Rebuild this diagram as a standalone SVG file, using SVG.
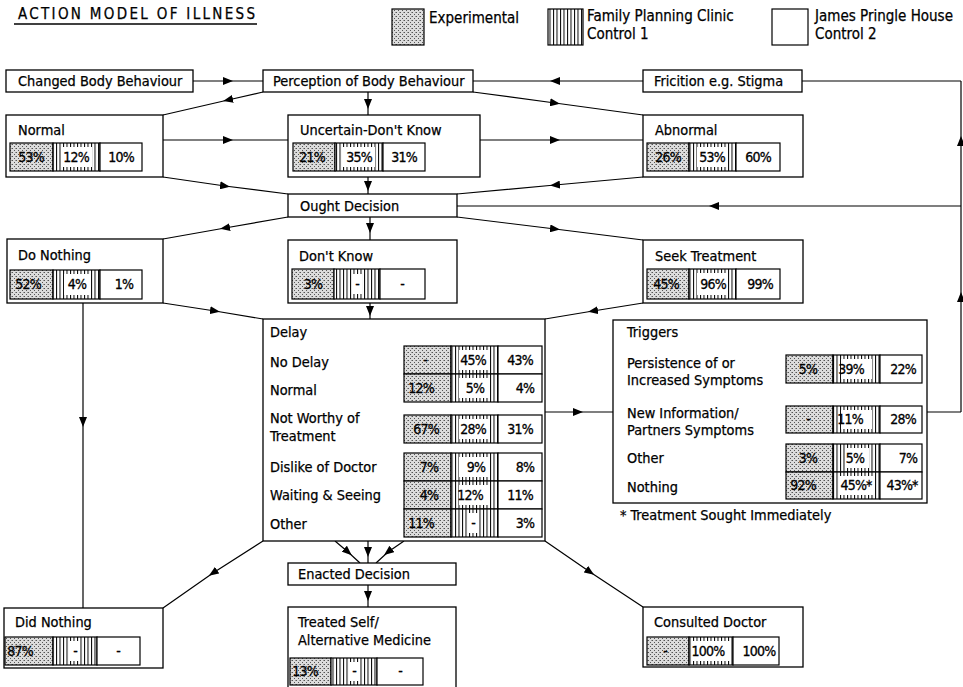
<svg xmlns="http://www.w3.org/2000/svg" width="963" height="687" viewBox="0 0 963 687">
<style>
.b{fill:#fff;stroke:#000;stroke-width:1.3}
.t{font-family:"DejaVu Sans Condensed","Liberation Sans Narrow","Roboto Condensed","DejaVu Sans",sans-serif;font-stretch:condensed;font-size:14.4px;fill:#000;stroke:#000;stroke-width:0.25}
.lg{font-size:15px}
.p{font-family:"DejaVu Sans Condensed","Liberation Sans Narrow","Roboto Condensed","DejaVu Sans",sans-serif;font-stretch:condensed;font-size:14px;fill:#000;stroke:#000;stroke-width:0.3;text-anchor:middle;letter-spacing:-0.8px}
.st{fill:url(#st);stroke:#000;stroke-width:1.2}
.vl{fill:url(#vl);stroke:#000;stroke-width:1.2}
.wh{fill:#fff;stroke:#000;stroke-width:1.2}
.m{fill:#fff}
.c{fill:none;stroke:#000;stroke-width:1.2;marker-mid:url(#ah)}
.n{fill:none;stroke:#000;stroke-width:1.2}
</style>
<defs>
<pattern id="st" width="4" height="4" patternUnits="userSpaceOnUse"><rect width="4" height="4" fill="#dcdcdc"/><rect x="0" y="0" width="1" height="1" fill="#555"/><rect x="2" y="2" width="1" height="1" fill="#555"/><rect x="3" y="0" width="1" height="1" fill="#999"/></pattern>
<pattern id="vl" width="3.5" height="10" patternUnits="userSpaceOnUse"><rect width="3.5" height="10" fill="#fff"/><rect x="0" y="0" width="1" height="10" fill="#000"/></pattern>
<marker id="ah" viewBox="0 0 10 8" refX="5" refY="4" markerWidth="10" markerHeight="8" markerUnits="userSpaceOnUse" orient="auto"><path d="M0,0 L10,4 L0,8 z" fill="#000"/></marker>
</defs>
<rect width="963" height="687" fill="#fff"/>

<g id="title">
<text class="t" x="18" y="19" textLength="237" lengthAdjust="spacing" style="font-size:15px">ACTION MODEL OF ILLNESS</text>
<line x1="14" y1="24" x2="257" y2="24" stroke="#000" stroke-width="1.3"/>
</g>

<g id="legend">
<rect class="st" x="392" y="9" width="32" height="36"/>
<text class="t lg" x="429" y="23">Experimental</text>
<rect class="vl" x="548" y="9" width="35" height="36"/>
<text class="t lg" x="587" y="21">Family Planning Clinic</text>
<text class="t lg" x="587" y="39">Control 1</text>
<rect class="wh" x="772" y="9" width="36" height="36"/>
<text class="t lg" x="815" y="21">James Pringle House</text>
<text class="t lg" x="815" y="39">Control 2</text>
</g>

<g id="connectors">
<path class="c" d="M193,81 L228,81 L263,81"/>
<path class="c" d="M643,81 L555,81 L473,81"/>
<path class="c" d="M263,92 L228,100 L163,115"/>
<path class="c" d="M368,92 L368,104 L368,115"/>
<path class="c" d="M473,92 L555,103 L643,115"/>
<path class="c" d="M163,140 L228,140 L288,140"/>
<path class="c" d="M480,140 L555,140 L643,140"/>
<path class="c" d="M163,177 L225,186 L288,194"/>
<path class="c" d="M368,177 L368,186 L368,194"/>
<path class="c" d="M643,177 L555,185 L457,194"/>
<path class="c" d="M961,206 L714,206 L457,206"/>
<path class="n" d="M927,412 L961,412"/>
<path class="c" d="M961,412 L961,297 L961,206"/>
<path class="c" d="M961,206 L961,141 L961,81"/>
<path class="n" d="M961,81 L802,81"/>
<path class="c" d="M288,217 L225,228 L163,239"/>
<path class="c" d="M370,217 L370,228 L370,240"/>
<path class="c" d="M457,217 L555,229 L643,240"/>
<path class="c" d="M163,303 L215,311 L263,319"/>
<path class="c" d="M370,303 L370,311 L370,319"/>
<path class="c" d="M643,303 L593,311 L545,319"/>
<path class="c" d="M83,303 L83,422 L83,608"/>
<path class="c" d="M545,412 L578,412 L613,412"/>
<path class="c" d="M335,541 L348,552 L360,563"/>
<path class="c" d="M368,541 L368,552 L368,563"/>
<path class="c" d="M404,541 L388,552 L376,563"/>
<path class="c" d="M263,541 L213,573 L163,608"/>
<path class="c" d="M545,541 L590,572 L643,607"/>
<path class="c" d="M368,585 L368,596 L368,607"/>
</g>

<g id="changed-body">
<rect class="b" x="6" y="70" width="187" height="22"/>
<text class="t" x="18" y="86">Changed Body Behaviour</text>
</g>
<g id="perception">
<rect class="b" x="263" y="70" width="210" height="22"/>
<text class="t" x="273" y="86">Perception of Body Behaviour</text>
</g>
<g id="friction">
<rect class="b" x="643" y="70" width="159" height="22"/>
<text class="t" x="654" y="86">Fricition e.g. Stigma</text>
</g>

<g id="normal">
<rect class="b" x="6" y="115" width="157" height="62"/>
<text class="t" x="18" y="135">Normal</text>
<rect class="st" x="10" y="143" width="43" height="28"/>
<rect class="vl" x="53" y="143" width="47" height="28"/><rect class="m" x="61" y="147" width="31" height="20"/>
<rect class="wh" x="100" y="143" width="42" height="28"/>
<text class="p" x="31" y="162">53%</text><text class="p" x="76" y="162">12%</text><text class="p" x="121" y="162">10%</text>
</g>
<g id="uncertain">
<rect class="b" x="288" y="115" width="192" height="62"/>
<text class="t" x="300" y="135">Uncertain-Don't Know</text>
<rect class="st" x="293" y="143" width="42" height="28"/>
<rect class="vl" x="335" y="143" width="48" height="28"/><rect class="m" x="343" y="147" width="32" height="20"/>
<rect class="wh" x="383" y="143" width="42" height="28"/>
<text class="p" x="312" y="162">21%</text><text class="p" x="359" y="162">35%</text><text class="p" x="404" y="162">31%</text>
</g>
<g id="abnormal">
<rect class="b" x="643" y="115" width="160" height="62"/>
<text class="t" x="655" y="135">Abnormal</text>
<rect class="st" x="647" y="143" width="42" height="28"/>
<rect class="vl" x="689" y="143" width="47" height="28"/><rect class="m" x="697" y="147" width="31" height="20"/>
<rect class="wh" x="736" y="143" width="44" height="28"/>
<text class="p" x="668" y="162">26%</text><text class="p" x="712" y="162">53%</text><text class="p" x="758" y="162">60%</text>
</g>

<g id="ought">
<rect class="b" x="288" y="194" width="169" height="23"/>
<text class="t" x="300" y="211">Ought Decision</text>
</g>

<g id="do-nothing">
<rect class="b" x="7" y="239" width="156" height="64"/>
<text class="t" x="18" y="260">Do Nothing</text>
<rect class="st" x="10" y="270" width="43" height="29"/>
<rect class="vl" x="53" y="270" width="47" height="29"/><rect class="m" x="64" y="274" width="26" height="21"/>
<rect class="wh" x="100" y="270" width="42" height="29"/>
<text class="p" x="28" y="289">52%</text><text class="p" x="77" y="289">4%</text><text class="p" x="124" y="289">1%</text>
</g>
<g id="dont-know">
<rect class="b" x="288" y="240" width="169" height="63"/>
<text class="t" x="299" y="261">Don't Know</text>
<rect class="st" x="292" y="269" width="42" height="30"/>
<rect class="vl" x="334" y="269" width="46" height="30"/><rect class="m" x="352" y="274" width="10" height="20"/>
<rect class="wh" x="380" y="269" width="45" height="30"/>
<text class="p" x="313" y="289">3%</text><text class="p" x="357" y="289">-</text><text class="p" x="402" y="289">-</text>
</g>
<g id="seek">
<rect class="b" x="643" y="240" width="160" height="63"/>
<text class="t" x="655" y="261">Seek Treatment</text>
<rect class="st" x="647" y="269" width="42" height="30"/>
<rect class="vl" x="689" y="269" width="47" height="30"/><rect class="m" x="697" y="273" width="31" height="22"/>
<rect class="wh" x="736" y="269" width="44" height="30"/>
<text class="p" x="666" y="289">45%</text><text class="p" x="713" y="289">96%</text><text class="p" x="760" y="289">99%</text>
</g>

<g id="delay">
<rect class="b" x="263" y="319" width="282" height="222"/>
<text class="t" x="270" y="337">Delay</text>
<text class="t" x="270" y="367">No Delay</text>
<text class="t" x="270" y="395">Normal</text>
<text class="t" x="270" y="423">Not Worthy of</text>
<text class="t" x="270" y="441">Treatment</text>
<text class="t" x="270" y="472">Dislike of Doctor</text>
<text class="t" x="270" y="500">Waiting &amp; Seeing</text>
<text class="t" x="270" y="529">Other</text>
<rect class="st" x="404" y="346" width="47" height="28"/><rect class="vl" x="451" y="346" width="47" height="28"/><rect class="m" x="459" y="350" width="31" height="20"/><rect class="wh" x="498" y="346" width="44" height="28"/>
<rect class="st" x="404" y="374" width="47" height="28"/><rect class="vl" x="451" y="374" width="47" height="28"/><rect class="m" x="459" y="378" width="31" height="20"/><rect class="wh" x="498" y="374" width="44" height="28"/>
<rect class="st" x="404" y="415" width="47" height="28"/><rect class="vl" x="451" y="415" width="47" height="28"/><rect class="m" x="459" y="419" width="31" height="20"/><rect class="wh" x="498" y="415" width="44" height="28"/>
<rect class="st" x="404" y="453" width="47" height="28"/><rect class="vl" x="451" y="453" width="47" height="28"/><rect class="m" x="459" y="457" width="31" height="20"/><rect class="wh" x="498" y="453" width="44" height="28"/>
<rect class="st" x="404" y="481" width="47" height="28"/><rect class="vl" x="451" y="481" width="47" height="28"/><rect class="m" x="459" y="485" width="31" height="20"/><rect class="wh" x="498" y="481" width="44" height="28"/>
<rect class="st" x="404" y="509" width="47" height="28"/><rect class="vl" x="451" y="509" width="47" height="28"/><rect class="m" x="468" y="513" width="10" height="20"/><rect class="wh" x="498" y="509" width="44" height="28"/>
<text class="p" x="425" y="365">-</text><text class="p" x="473" y="365">45%</text><text class="p" x="520" y="365">43%</text>
<text class="p" x="421" y="393">12%</text><text class="p" x="475" y="393">5%</text><text class="p" x="525" y="393">4%</text>
<text class="p" x="426" y="434">67%</text><text class="p" x="473" y="434">28%</text><text class="p" x="520" y="434">31%</text>
<text class="p" x="429" y="472">7%</text><text class="p" x="476" y="472">9%</text><text class="p" x="525" y="472">8%</text>
<text class="p" x="429" y="500">4%</text><text class="p" x="470" y="500">12%</text><text class="p" x="520" y="500">11%</text>
<text class="p" x="421" y="528">11%</text><text class="p" x="473" y="528">-</text><text class="p" x="525" y="528">3%</text>
</g>

<g id="triggers">
<rect class="b" x="613" y="320" width="314" height="183"/>
<text class="t" x="627" y="337">Triggers</text>
<text class="t" x="627" y="368">Persistence of or</text>
<text class="t" x="627" y="385">Increased Symptoms</text>
<text class="t" x="627" y="418">New Information/</text>
<text class="t" x="627" y="435">Partners Symptoms</text>
<text class="t" x="627" y="463">Other</text>
<text class="t" x="627" y="492">Nothing</text>
<rect class="st" x="786" y="355" width="47" height="28"/><rect class="vl" x="833" y="355" width="47" height="28"/><rect class="m" x="841" y="359" width="31" height="20"/><rect class="wh" x="880" y="355" width="42" height="28"/>
<rect class="st" x="786" y="406" width="47" height="27"/><rect class="vl" x="833" y="406" width="47" height="27"/><rect class="m" x="841" y="410" width="31" height="19"/><rect class="wh" x="880" y="406" width="42" height="27"/>
<rect class="st" x="786" y="444" width="47" height="28"/><rect class="vl" x="833" y="444" width="47" height="28"/><rect class="m" x="845" y="448" width="24" height="20"/><rect class="wh" x="880" y="444" width="42" height="28"/>
<rect class="st" x="786" y="472" width="47" height="27"/><rect class="vl" x="833" y="472" width="47" height="27"/><rect class="m" x="839" y="476" width="35" height="19"/><rect class="wh" x="880" y="472" width="42" height="27"/>
<text class="p" x="808" y="374">5%</text><text class="p" x="851" y="374">39%</text><text class="p" x="903" y="374">22%</text>
<text class="p" x="808" y="424">-</text><text class="p" x="850" y="424">11%</text><text class="p" x="903" y="424">28%</text>
<text class="p" x="808" y="463">3%</text><text class="p" x="855" y="463">5%</text><text class="p" x="908" y="463">7%</text>
<text class="p" x="803" y="490">92%</text><text class="p" x="856" y="490">45%*</text><text class="p" x="902" y="490">43%*</text>
<text class="t" x="620" y="520">* Treatment Sought Immediately</text>
</g>

<g id="enacted">
<rect class="b" x="288" y="563" width="168" height="22"/>
<text class="t" x="298" y="579">Enacted Decision</text>
</g>

<g id="did-nothing">
<rect class="b" x="4" y="608" width="159" height="60"/>
<text class="t" x="15" y="627">Did Nothing</text>
<rect class="st" x="5" y="637" width="48" height="28"/>
<rect class="vl" x="53" y="637" width="44" height="28"/><rect class="m" x="70" y="641" width="10" height="20"/>
<rect class="wh" x="97" y="637" width="43" height="28"/>
<text class="p" x="20" y="656">87%</text><text class="p" x="75" y="656">-</text><text class="p" x="118" y="656">-</text>
</g>
<g id="treated-self">
<rect class="b" x="288" y="607" width="168" height="85"/>
<text class="t" x="298" y="627">Treated Self/</text>
<text class="t" x="298" y="645">Alternative Medicine</text>
<rect class="st" x="290" y="658" width="41" height="27"/>
<rect class="vl" x="331" y="658" width="46" height="27"/><rect class="m" x="349" y="662" width="10" height="19"/>
<rect class="wh" x="377" y="658" width="46" height="27"/>
<text class="p" x="305" y="676">13%</text><text class="p" x="354" y="676">-</text><text class="p" x="400" y="676">-</text>
</g>
<g id="consulted">
<rect class="b" x="643" y="607" width="160" height="60"/>
<text class="t" x="654" y="627">Consulted Doctor</text>
<rect class="st" x="647" y="637" width="42" height="28"/>
<rect class="vl" x="689" y="637" width="44" height="28"/><rect class="m" x="692" y="641" width="38" height="20"/>
<rect class="wh" x="733" y="637" width="46" height="28"/>
<text class="p" x="665" y="656">-</text><text class="p" x="708" y="656">100%</text><text class="p" x="759" y="656">100%</text>
</g>
</svg>
